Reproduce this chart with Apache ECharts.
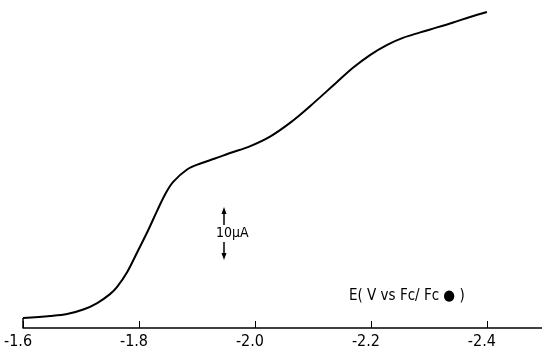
<!DOCTYPE html>
<html>
<head>
<meta charset="utf-8">
<script src="https://cdn.jsdelivr.net/npm/echarts@6/dist/echarts.min.js"></script>
<style>
  html, body { margin: 0; padding: 0; background: #fff; }
  #main { width: 542px; height: 350px; }
</style>
</head>
<body>
<div id="main"></div>
<script>
// potential (V vs Fc/Fc+) and current (uA above baseline)
var potential = [-1.600, -1.647, -1.676, -1.704, -1.728, -1.750, -1.762, -1.780, -1.797, -1.815,
  -1.832, -1.845, -1.859, -1.883, -1.906, -1.931, -1.957, -1.992, -2.026, -2.061,
  -2.095, -2.142, -2.169, -2.199, -2.228, -2.255, -2.285, -2.314, -2.342, -2.371, -2.400];
var current = [2.0, 2.4, 2.8, 3.7, 5.0, 6.8, 8.2, 11.3, 15.2, 19.4,
  23.7, 26.8, 29.3, 31.8, 33.0, 34.0, 35.1, 36.5, 38.4, 41.2,
  44.5, 49.4, 52.2, 54.8, 56.8, 58.2, 59.3, 60.3, 61.3, 62.4, 63.4];
var tickValues = [-1.6, -1.8, -2.0, -2.2, -2.4];

var font = '"DejaVu Sans Condensed", "Liberation Sans Narrow", sans-serif';

var curve = [];
for (var i = 0; i < potential.length; i++) {
  curve.push([potential[i], current[i]]);
}

var chart = echarts.init(document.getElementById('main'));

var option = {
  animation: false,
  grid: { left: 23, right: 0, top: 0, bottom: 21 },
  xAxis: {
    type: 'value',
    inverse: true,
    min: -2.495,
    max: -1.6,
    splitLine: { show: false },
    axisLine: { show: true, lineStyle: { color: '#000', width: 1.5 } },
    axisTick: {
      show: true, inside: true, length: 7,
      customValues: tickValues,
      lineStyle: { color: '#000', width: 1 }
    },
    axisLabel: {
      show: true,
      customValues: tickValues,
      margin: 6,
      color: '#000',
      fontSize: 16,
      fontFamily: font,
      padding: [0, 10, 0, 0],
      formatter: function (v) { return v.toFixed(1); }
    }
  },
  yAxis: {
    type: 'value',
    min: 0,
    max: 65.8,
    show: false
  },
  series: [
    {
      type: 'line',
      data: curve,
      smooth: 0.35,
      showSymbol: false,
      lineStyle: { color: '#000', width: 2 }
    },
    {
      type: 'line',
      data: [[-1.6, 0], [-1.6, current[0]]],
      showSymbol: false,
      lineStyle: { color: '#000', width: 1.5 }
    }
  ],
  graphic: [
    // 10 uA scale bar
    { type: 'line', shape: { x1: 224, y1: 212, x2: 224, y2: 225 }, style: { stroke: '#000', lineWidth: 1.5 } },
    { type: 'polygon', shape: { points: [[224, 207], [221.5, 214], [226.5, 214]] }, style: { fill: '#000' } },
    { type: 'line', shape: { x1: 224, y1: 242, x2: 224, y2: 255 }, style: { stroke: '#000', lineWidth: 1.5 } },
    { type: 'polygon', shape: { points: [[224, 260], [221.5, 253], [226.5, 253]] }, style: { fill: '#000' } },
    { type: 'text', x: 216, y: 233, style: { text: '10\u00b5A', fill: '#000', font: '14px ' + font, textVerticalAlign: 'middle' } },
    { type: 'text', x: 349, y: 296, style: { text: 'E( V vs Fc/ Fc \u25cf )', fill: '#000', font: '15px ' + font, textVerticalAlign: 'middle' } }
  ]
};

chart.setOption(option);
</script>
</body>
</html>
